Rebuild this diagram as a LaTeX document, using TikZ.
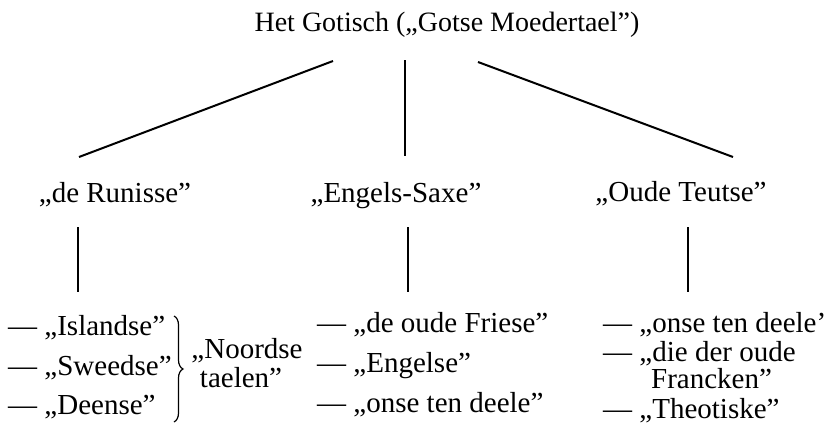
\documentclass[tikz,border=0pt]{standalone}
\usepackage{fontspec}
\setmainfont{Liberation Serif}
\usetikzlibrary{decorations.pathreplacing}
\begin{document}
\begin{tikzpicture}[x=1pt,y=-1pt,
  lbl/.style={inner sep=0pt, anchor=base west, font=\fontsize{29}{33}\selectfont},
  clbl/.style={inner sep=0pt, anchor=base, font=\fontsize{29}{33}\selectfont},
  edge/.style={line width=2pt},
  bracestyle/.style={line width=1.2pt, decorate, decoration={brace, amplitude=9pt}}]
\useasboundingbox (0,0) rectangle (832,431);
% level 0
\node[clbl, font=\fontsize{28}{32}\selectfont] (title) at (447,31) {Het Gotisch („Gotse Moedertael”)};
% level 1
\node[clbl] (runisse) at (115,202) {„de Runisse”};
\node[clbl] (saxe) at (396,202) {„Engels-Saxe”};
\node[clbl] (teutse) at (681,201) {„Oude Teutse”};
% connector ends
\coordinate (t1) at (333,61);
\coordinate (t2) at (405,60);
\coordinate (t3) at (478,62);
\coordinate (c1) at (79,157);
\coordinate (c2) at (405,156);
\coordinate (c3) at (733,157);
\draw[edge] (t1) -- (c1);
\draw[edge] (t2) -- (c2);
\draw[edge] (t3) -- (c3);
\coordinate (r1a) at (78,227);
\coordinate (r1b) at (78,292);
\coordinate (r2a) at (408,227);
\coordinate (r2b) at (408,292);
\coordinate (r3a) at (688,227);
\coordinate (r3b) at (688,292);
\draw[edge] (r1a) -- (r1b);
\draw[edge] (r2a) -- (r2b);
\draw[edge] (r3a) -- (r3b);
% level 2, left
\node[lbl] (isl) at (8,335) {— „Islandse”};
\node[lbl] (swe) at (8,375) {— „Sweedse”};
\node[lbl] (dee) at (8,414) {— „Deense”};
\coordinate (bt) at (174,316);
\coordinate (bb) at (174,422);
\draw[bracestyle] (bt) -- (bb);
\node[clbl] (noord) at (247,358) {„Noordse};
\node[clbl] (taelen) at (241,387) {taelen”};
% level 2, middle
\node[lbl] (fri) at (317,332) {— „de oude Friese”};
\node[lbl] (eng) at (317,372) {— „Engelse”};
\node[lbl] (onse1) at (317,412) {— „onse ten deele”};
% level 2, right
\node[lbl] (onse2) at (603,332) {— „onse ten deele’};
\node[lbl] (die) at (603,361) {— „die der oude};
\node[lbl] (franc) at (651,388) {Francken”};
\node[lbl] (theo) at (603,418) {— „Theotiske”};
\end{tikzpicture}
\end{document}
